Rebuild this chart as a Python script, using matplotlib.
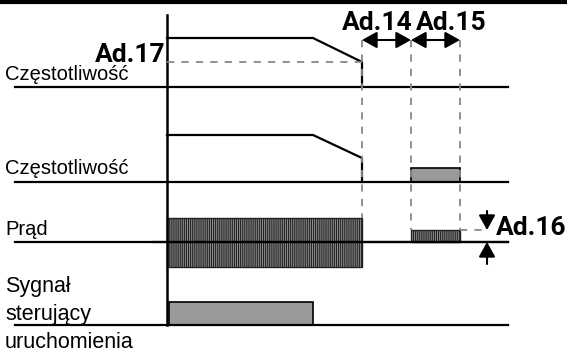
import matplotlib.pyplot as plt
from matplotlib.patches import Rectangle

# czasy (pozycje na osi poziomej, px)
t_start = 167
t_hamowanie = 313
t_stop = 362
t_dc_start = 411
t_dc_koniec = 460
t_koniec = 508

# czestotliwosc 1 (y w px, os odwrocona)
f1_x = [t_start, t_hamowanie, t_stop, t_stop]
f1_y = [38, 38, 62, 87]
f1_base = 87
ad17_y = 62

# czestotliwosc 2
f2_x = [t_start, t_hamowanie, t_stop, t_stop]
f2_y = [135, 135, 158, 182]
f2_base = 182
f2_dc_top = 168

# prad
prad_base = 242
prad_top = 218
prad_bottom = 267
prad_dc_top = 230

# sygnal
syg_base = 325
syg_top = 302
syg_koniec = 313

etykiety = [("Częstotliwość", 80, 14.5), ("Częstotliwość", 174, 14.5), ("Prąd", 235, 14.5),
            ("Sygnał", 292, 15.5), ("sterujący", 320, 15.5), ("uruchomienia", 348, 15.5)]

plt.rcParams["hatch.linewidth"] = 0.8
fig = plt.figure(figsize=(5.67, 3.54), dpi=100)
ax = fig.add_axes([0, 0, 1, 1])
ax.set_xlim(0, 567)
ax.set_ylim(354, 0)
ax.axis("off")

lw = 1.6
szary = "#999999"
kresk = dict(color="#888888", lw=1.3, ls=(0, (4, 4)))
font_ad = dict(family="Roboto", fontsize=19, fontweight="bold")

# ramka u gory
ax.plot([0, 567], [1.5, 1.5], color="black", lw=3)

# os pionowa
ax.plot([t_start, t_start], [15, syg_base], color="black", lw=1.8)

# linie bazowe
for yb in [f1_base, f2_base, prad_base, syg_base]:
    ax.plot([15, t_koniec], [yb, yb], color="black", lw=lw)

# czestotliwosc 1
ax.plot(f1_x, f1_y, color="black", lw=lw)
ax.plot([t_start, t_stop], [ad17_y, ad17_y], **kresk)

# czestotliwosc 2
ax.plot(f2_x, f2_y, color="black", lw=lw)
ax.add_patch(Rectangle((t_dc_start, f2_dc_top), t_dc_koniec - t_dc_start,
                       f2_base - f2_dc_top, facecolor=szary, edgecolor="black", lw=1.2))

# linie przerywane
ax.plot([t_stop, t_stop], [40, prad_top], **kresk)
ax.plot([t_dc_start, t_dc_start], [40, prad_dc_top], **kresk)
ax.plot([t_dc_koniec, t_dc_koniec], [40, prad_dc_top], **kresk)
ax.plot([t_dc_koniec, 483], [prad_dc_top, prad_dc_top], **kresk)

# prad
ax.add_patch(Rectangle((t_start, prad_top), t_stop - t_start, prad_bottom - prad_top,
                       facecolor="#909090", edgecolor="#222222", lw=1.0, hatch="||||||||"))
ax.add_patch(Rectangle((t_dc_start, prad_dc_top), t_dc_koniec - t_dc_start,
                       prad_base - prad_dc_top, facecolor="#909090", edgecolor="#222222",
                       lw=1.0, hatch="||||||||"))
ax.plot([t_start - 14, t_koniec], [prad_base, prad_base], color="black", lw=lw)

# sygnal
ax.add_patch(Rectangle((t_start + 2, syg_top), syg_koniec - t_start - 2, syg_base - syg_top,
                       facecolor=szary, edgecolor="black", lw=1.2))

# strzalki
strz = dict(arrowstyle="<|-|>,head_length=0.45,head_width=0.25", color="black", lw=1.5,
            mutation_scale=20, shrinkA=0, shrinkB=0)
ax.annotate("", xy=(t_stop, 40), xytext=(t_dc_start, 40), arrowprops=strz)
ax.annotate("", xy=(t_dc_start, 40), xytext=(t_dc_koniec, 40), arrowprops=strz)
strz1 = dict(arrowstyle="-|>,head_length=0.45,head_width=0.25", color="black", lw=1.5,
             mutation_scale=20, shrinkA=0, shrinkB=0)
ax.annotate("", xy=(487, prad_dc_top), xytext=(487, 211), arrowprops=strz1)
ax.annotate("", xy=(487, prad_base), xytext=(487, 264), arrowprops=strz1)

# teksty
ax.text(166, ad17_y, "Ad.17", ha="right", va="baseline", **font_ad)
ax.text(377, 30, "Ad.14", ha="center", va="baseline", **font_ad)
ax.text(451, 30, "Ad.15", ha="center", va="baseline", **font_ad)
ax.text(496, 235, "Ad.16", ha="left", va="baseline", **font_ad)
for txt, yb, fs in etykiety:
    ax.text(5, yb, txt, ha="left", va="baseline", family="Liberation Sans", fontsize=fs)

fig.savefig("out.png", dpi=100)
